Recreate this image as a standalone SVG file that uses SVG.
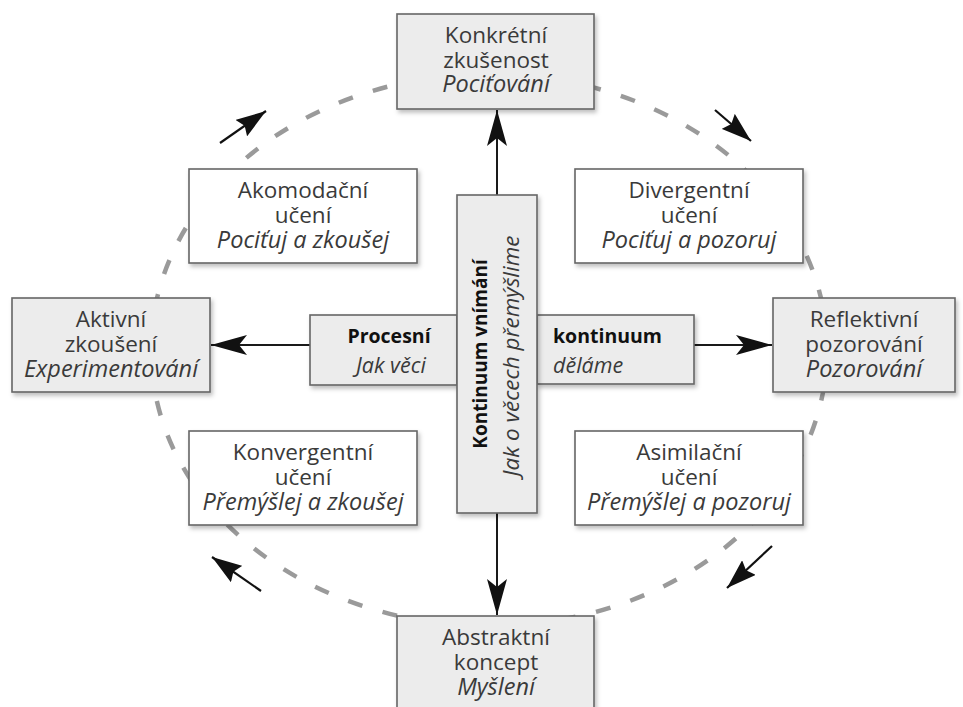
<svg xmlns="http://www.w3.org/2000/svg" width="963" height="707" viewBox="0 0 963 707">
<style>
text{font-family:"Open Sans","DejaVu Sans",sans-serif;font-size:22.5px;fill:#3a3a3a;text-anchor:middle}
.i{font-style:italic;font-size:23.5px}
.b{font-weight:bold;fill:#111;font-size:19.5px}
.pi{font-style:italic;font-size:21.5px}
.rb{font-weight:bold;fill:#111;font-size:19px}
.ri{font-style:italic;font-size:22.5px}
.g{fill:#ececec;stroke:#666;stroke-width:1.6}
.w{fill:#fff;stroke:#666;stroke-width:1.6}
.ln{stroke:#1a1a1a;stroke-width:2;fill:none}
.tg{stroke:#111;stroke-width:2.2;fill:none}
</style>
<defs>
<filter id="sh" x="-10%" y="-10%" width="130%" height="130%">
<feDropShadow dx="2" dy="3" stdDeviation="2" flood-color="#000" flood-opacity="0.25"/>
</filter>
<marker id="ah" viewBox="0 0 36 20" refX="36" refY="10" markerWidth="36" markerHeight="20" markerUnits="userSpaceOnUse" orient="auto">
<path d="M0,0 L36,10 L0,20 L8,10 Z" fill="#111"/>
</marker>
<marker id="at" viewBox="0 0 30 20" refX="30" refY="10" markerWidth="30" markerHeight="20" markerUnits="userSpaceOnUse" orient="auto">
<path d="M0,0 L30,10 L0,20 L4,10 Z" fill="#111"/>
</marker>
</defs>
<g id="cycle">
<ellipse cx="489" cy="350" rx="338" ry="276" fill="none" stroke="#9a9a9a" stroke-width="4.5" stroke-dasharray="15 21"/>
</g>
<g id="connectors">
<line class="ln" x1="497" y1="195" x2="497" y2="110" marker-end="url(#ah)"/>
<line class="ln" x1="497" y1="513" x2="497" y2="615" marker-end="url(#ah)"/>
<line class="ln" x1="310" y1="345" x2="211" y2="345" marker-end="url(#ah)"/>
<line class="ln" x1="694" y1="345" x2="772" y2="345" marker-end="url(#ah)"/>
<line class="tg" x1="220" y1="143" x2="266" y2="111" marker-end="url(#at)"/>
<line class="tg" x1="715" y1="110" x2="751" y2="141" marker-end="url(#at)"/>
<line class="tg" x1="772" y1="546" x2="727" y2="588" marker-end="url(#at)"/>
<line class="tg" x1="261" y1="591" x2="212" y2="557" marker-end="url(#at)"/>
</g>
<g id="konkretni">
<rect class="g" x="397" y="14" width="197" height="95" filter="url(#sh)"/>
<text x="496" y="43">Konkrétní</text>
<text x="496" y="68">zkušenost</text>
<text class="i" x="496" y="92">Pociťování</text>
</g>
<g id="abstraktni">
<rect class="g" x="397" y="616" width="197" height="100" filter="url(#sh)"/>
<text x="496" y="645">Abstraktní</text>
<text x="496" y="670">koncept</text>
<text class="i" x="496" y="695">Myšlení</text>
</g>
<g id="aktivni">
<rect class="g" x="12" y="298" width="198" height="94" filter="url(#sh)"/>
<text x="111" y="327">Aktivní</text>
<text x="111" y="352">zkoušení</text>
<text class="i" x="111" y="377">Experimentování</text>
</g>
<g id="reflektivni">
<rect class="g" x="773" y="298" width="182" height="94" filter="url(#sh)"/>
<text x="864" y="327">Reflektivní</text>
<text x="864" y="352">pozorování</text>
<text class="i" x="864" y="377">Pozorování</text>
</g>
<g id="akomodacni">
<rect class="w" x="189" y="169" width="228" height="94" filter="url(#sh)"/>
<text x="303" y="198">Akomodační</text>
<text x="303" y="223">učení</text>
<text class="i" x="303" y="248">Pociťuj a zkoušej</text>
</g>
<g id="divergentni">
<rect class="w" x="575" y="169" width="228" height="94" filter="url(#sh)"/>
<text x="689" y="198">Divergentní</text>
<text x="689" y="223">učení</text>
<text class="i" x="689" y="248">Pociťuj a pozoruj</text>
</g>
<g id="konvergentni">
<rect class="w" x="189" y="431" width="228" height="94" filter="url(#sh)"/>
<text x="303" y="460">Konvergentní</text>
<text x="303" y="485">učení</text>
<text class="i" x="303" y="510">Přemýšlej a zkoušej</text>
</g>
<g id="asimilacni">
<rect class="w" x="575" y="431" width="228" height="94" filter="url(#sh)"/>
<text x="689" y="460">Asimilační</text>
<text x="689" y="485">učení</text>
<text class="i" x="689" y="510">Přemýšlej a pozoruj</text>
</g>
<g id="procesni">
<rect class="g" x="310" y="315" width="147" height="70" filter="url(#sh)"/>
<text class="b" x="389" y="343">Procesní</text>
<text class="pi" x="391" y="373">Jak věci</text>
</g>
<g id="kontinuum">
<rect class="g" x="537" y="315" width="157" height="69" filter="url(#sh)"/>
<text class="b" x="553" y="343" style="text-anchor:start">kontinuum</text>
<text class="pi" x="553" y="373" style="text-anchor:start">děláme</text>
</g>
<g id="vnimani">
<rect class="g" x="457" y="195" width="80" height="318" filter="url(#sh)"/>
<text class="rb" transform="translate(487,354) rotate(-90)">Kontinuum vnímání</text>
<text class="ri" transform="translate(519,356) rotate(-90)">Jak o věcech přemýšlime</text>
</g>
</svg>
